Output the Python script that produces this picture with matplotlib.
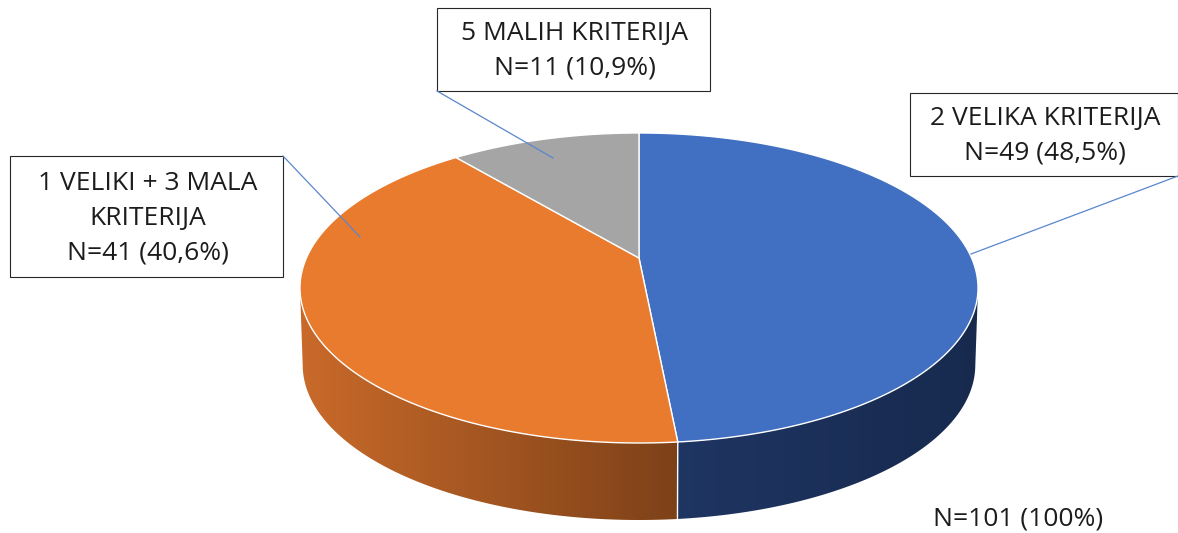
import numpy as np
import matplotlib
matplotlib.use("Agg")
import matplotlib.pyplot as plt
from matplotlib.patches import Polygon
from matplotlib.colors import to_rgb

categories = ["2 VELIKA KRITERIJA", "1 VELIKI + 3 MALA\nKRITERIJA", "5 MALIH KRITERIJA"]
counts = [49, 41, 11]
percents = [48.5, 40.6, 10.9]
top_colors = ["#4170C2", "#E97B2F", "#A5A5A5"]
side_left = ["#1F3562", "#C96A2A", "#707070"]
side_right = ["#172A4E", "#7D4118", "#707070"]
total_label = "N=101 (100%)"

W, H = 1178, 533
fig = plt.figure(figsize=(W / 100, H / 100), dpi=100, facecolor="white")
ax = fig.add_axes([0, 0, 1, 1])

CX, CY = 639, 258
A, B, P = 332.6, 149.2, 0.1935
DEPTH = 77
SHRINK = 0.992


def rim(t, drop=0.0, shrink=1.0):
    X, Y = np.sin(t), np.cos(t)
    d = 1 + P * Y
    return np.column_stack([CX + shrink * A * X / d, CY - B * Y / d + drop])


fracs = np.array(percents) / sum(percents)
edges = np.concatenate([[0], np.cumsum(fracs)]) * 2 * np.pi

# side wall: a horizontal colour ramp clipped to the visible wall outline of each slice
for i in range(3):
    ts = np.linspace(edges[i], edges[i + 1], 600)
    ts = ts[np.cos(ts) <= -P]
    if len(ts) < 2:
        continue
    up, dn = rim(ts), rim(ts, DEPTH, SHRINK)
    outline = Polygon(np.vstack([up, dn[::-1]]), closed=True, facecolor="none",
                      edgecolor="none", transform=ax.transData)
    ax.add_patch(outline)
    lo, hi = up[:, 0].min(), up[:, 0].max()
    c0, c1 = np.array(to_rgb(side_left[i])), np.array(to_rgb(side_right[i]))
    ramp = c0 + (c1 - c0) * np.linspace(0, 1, 256)[:, None]
    im = ax.imshow(ramp[None, :, :], extent=(lo, hi, H, 0), aspect="auto",
                   interpolation="bilinear", zorder=2)
    im.set_clip_path(outline)

# white seam where blue meets orange on the wall
seam_t = np.array([edges[1]])
ax.plot([rim(seam_t)[0, 0], rim(seam_t, DEPTH, SHRINK)[0, 0]],
        [rim(seam_t)[0, 1], rim(seam_t, DEPTH, SHRINK)[0, 1]], color="white", lw=1.0, zorder=3)

# top face
for i in range(3):
    ts = np.linspace(edges[i], edges[i + 1], 300)
    pts = np.vstack([[CX, CY], rim(ts)])
    ax.add_patch(Polygon(pts, closed=True, facecolor=top_colors[i], edgecolor="white",
                         lw=1.0, joinstyle="round", zorder=4))

FONT = "Open Sans"
FS = 19
LINE = "#5B86CC"
INK = "#1c1c1c"

boxes = [(910, 93, 1178, 176), (10, 156, 283, 277), (437, 8, 710, 91)]
leaders = [[(1178, 176), (971, 254)], [(283, 156), (360, 237)], [(437, 91), (553, 158)]]
for i, (x0, y0, x1, y1) in enumerate(boxes):
    ax.add_patch(Polygon([(x0, y0), (x1, y0), (x1, y1), (x0, y1)], closed=True,
                         facecolor="white", edgecolor="#262626", lw=0.8, zorder=5))
    (ax0, ay0), (ax1, ay1) = leaders[i]
    ax.plot([ax0, ax1], [ay0, ay1], color=LINE, lw=0.9, zorder=6)
    ax.text((x0 + x1) / 2 + 1, (y0 + y1) / 2 + 1.5,
            f"{categories[i]}\nN={counts[i]} ({str(percents[i]).replace('.', ',')}%)",
            ha="center", va="center", family=FONT, fontsize=FS, color=INK,
            linespacing=1.5, zorder=7)

ax.text(1018, 518.5, total_label, ha="center", va="center", family=FONT, fontsize=FS,
        color=INK, zorder=7)

ax.set_xlim(0, W)
ax.set_ylim(H, 0)
ax.axis("off")

fig.savefig("out.png", dpi=100, facecolor="white")
